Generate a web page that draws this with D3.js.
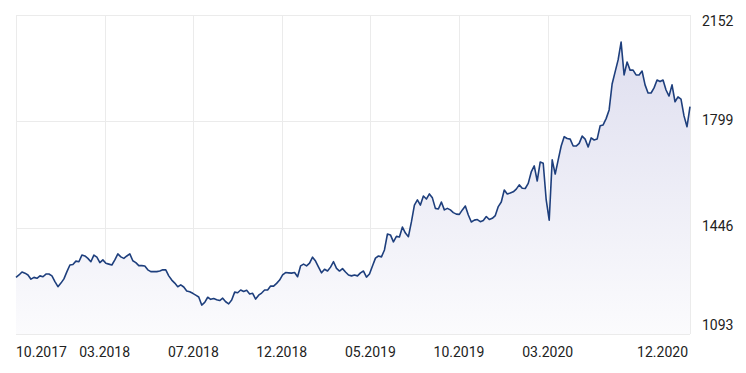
<!DOCTYPE html>
<html><head><meta charset="utf-8">
<script src="https://cdn.jsdelivr.net/npm/d3@7"></script>
<style>
html,body{margin:0;padding:0;background:#fff;}
svg text{font-family:Roboto,"Noto Sans",sans-serif;font-size:14px;fill:#222;}
</style></head>
<body><svg id="c" width="746" height="373"></svg>
<script>
// price series (USD), evenly spaced samples
const prices = [1281,1289,1299,1295,1289,1275,1281,1278,1286,1283,1292,1292,1286,1267,1250,1262,1276,1300,1322,1324,
1335,1333,1355,1352,1344,1333,1355,1348,1330,1339,1328,1325,1322,1339,1359,1349,1344,1352,1359,1336,
1330,1320,1320,1319,1306,1300,1300,1300,1302,1306,1306,1286,1272,1262,1250,1256,1249,1236,1233,1228,
1222,1216,1189,1198,1215,1208,1211,1207,1204,1212,1200,1193,1206,1232,1230,1239,1234,1238,1226,1228,
1209,1222,1229,1239,1239,1252,1252,1261,1272,1289,1297,1296,1295,1297,1283,1319,1325,1319,1328,1348,
1335,1315,1296,1308,1302,1315,1333,1311,1302,1310,1299,1289,1286,1289,1286,1296,1302,1282,1292,1319,
1345,1352,1349,1372,1425,1422,1399,1417,1415,1448,1428,1416,1465,1521,1538,1521,1551,1541,1558,1545,
1510,1508,1531,1505,1510,1505,1496,1491,1490,1505,1518,1488,1465,1471,1473,1466,1470,1483,1473,1477,
1486,1516,1531,1571,1558,1561,1565,1574,1588,1577,1576,1593,1631,1651,1601,1664,1660,1538,1471,1671,
1624,1671,1717,1748,1742,1740,1717,1717,1726,1750,1740,1714,1744,1737,1740,1784,1787,1808,1837,1923,
1963,2003,2062,1953,1996,1969,1969,1953,1953,1966,1920,1893,1893,1910,1936,1931,1936,1903,1883,1920,
1864,1880,1873,1817,1781,1848];
const yTicks = [1093, 1446, 1799, 2152];
const xTickLabels = ["10.2017","03.2018","07.2018","12.2018","05.2019","10.2019","03.2020","12.2020"];
const xTickIndex = [0, 29.6, 59.2, 88.7, 118.3, 147.9, 177.5, 225];

const W = 746, H = 373;
const m = {left:16, right:56, top:15, bottom:39};
const x0 = m.left, x1 = W - m.right, y0 = m.top, y1 = H - m.bottom;
const svg = d3.select("#c");

const x = d3.scaleLinear().domain([0, prices.length - 1]).range([x0, x1]);
const y = d3.scaleLinear().domain([yTicks[0], yTicks[yTicks.length-1]]).range([y1, y0]);

const defs = svg.append("defs");
const grad = defs.append("linearGradient").attr("id","g").attr("gradientUnits","userSpaceOnUse")
  .attr("x1",0).attr("x2",0).attr("y1",y0).attr("y2",y1);
grad.append("stop").attr("offset","0%").attr("stop-color","#dcdcee");
grad.append("stop").attr("offset","100%").attr("stop-color","#fbfbfd");

// grid
const grid = svg.append("g").attr("stroke","#ebebeb").attr("stroke-width",1).attr("shape-rendering","crispEdges");
yTicks.forEach(v => grid.append("line").attr("x1",x0).attr("x2",x1).attr("y1",Math.round(y(v))+0.5).attr("y2",Math.round(y(v))+0.5));
xTickIndex.slice(0, xTickIndex.length-1).forEach(i => grid.append("line")
  .attr("x1",Math.round(x(i))+0.5).attr("x2",Math.round(x(i))+0.5).attr("y1",y0).attr("y2",y1));
grid.append("line").attr("x1",x1+0.5).attr("x2",x1+0.5).attr("y1",y0).attr("y2",y1);

// area + line
const area = d3.area().x((d,i)=>x(i)).y0(y1).y1(d=>y(d));
const line = d3.line().x((d,i)=>x(i)).y(d=>y(d));
svg.append("path").datum(prices).attr("d",area).attr("fill","url(#g)");
svg.append("path").datum(prices).attr("d",line).attr("fill","none")
  .attr("stroke","#1e3f7d").attr("stroke-width",1.6).attr("stroke-linejoin","round");

// y labels (right side, kept inside plot band)
svg.append("g").selectAll("text").data(yTicks).join("text")
  .attr("x", x1 + 12)
  .attr("y", v => Math.max(y0 + 6, Math.min(y1 - 9, y(v) - 1.5)))
  .attr("dominant-baseline","central")
  .text(v => v);

// x labels
svg.append("g").selectAll("text").data(xTickLabels).join("text")
  .attr("x", (d,i) => i === xTickLabels.length-1 ? x(xTickIndex[i]) - 2 : x(xTickIndex[i]))
  .attr("y", 352)
  .attr("dominant-baseline","central")
  .attr("text-anchor", (d,i) => i === 0 ? "start" : (i === xTickLabels.length-1 ? "end" : "middle"))
  .text(d => d);
</script></body></html>
